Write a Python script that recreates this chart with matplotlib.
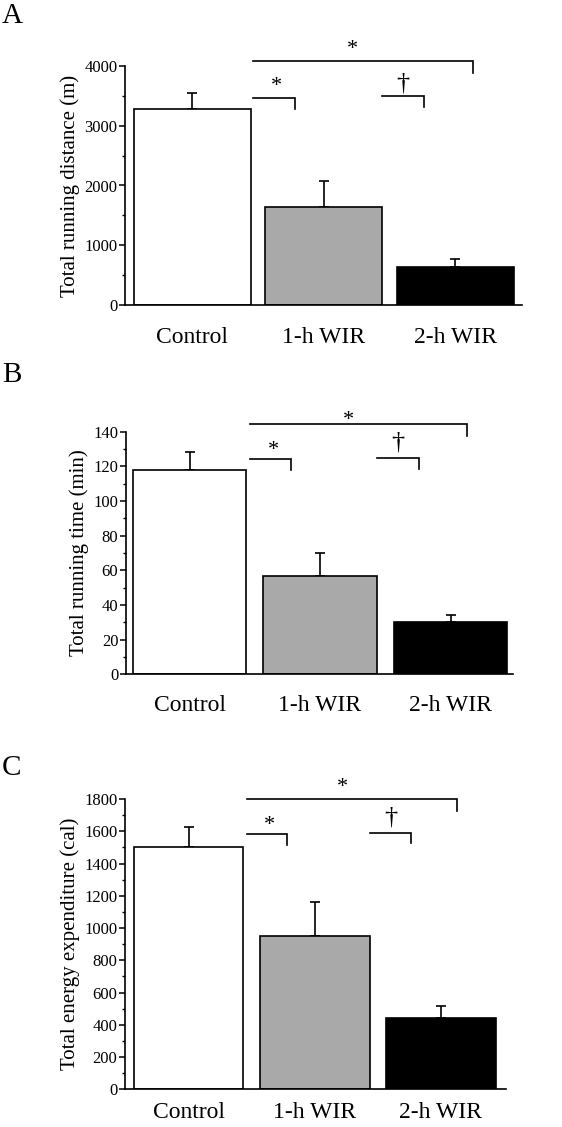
import matplotlib
matplotlib.use("Agg")
import matplotlib.pyplot as plt
from matplotlib.ticker import MultipleLocator

plt.rcParams['font.family'] = ['Liberation Serif', 'DejaVu Serif']

# data (mean, upper error bar)
categories = ["Control", "1-h WIR", "2-h WIR"]
distance_mean = [3275, 1645, 630]
distance_err = [265, 435, 135]
time_mean = [118, 56.5, 30]
time_err = [10.3, 13.3, 4.4]
energy_mean = [1500, 950, 440]
energy_err = [128, 209, 78]

bar_colors = ["white", "#a9a9a9", "black"]

W, H = 562, 1127

# panel layouts in pixel coords of the original (left, right, y of 0, y of top)
panels = [
    dict(letter="A", mean=distance_mean, err=distance_err,
         ylabel="Total running distance (m)", ymax=4000, major=1000,
         px=(125, 522, 305, 66), xlim=(-0.513, 2.506), width=0.89, letter_y=3, xpad=16,
         top=(4085, 3890, 4270), left=(3465, 3280, 3650), dag=(3505, 3320, 3715)),
    dict(letter="B", mean=time_mean, err=time_err,
         ylabel="Total running time (min)", ymax=140, major=20,
         px=(126, 513, 674.3, 431.7), xlim=(-0.487, 2.479), width=0.87, letter_y=362, xpad=15,
         top=(144.4, 137.5, 146.3), left=(124.1, 117.9, 129.4), dag=(124.6, 118.4, 133.6)),
    dict(letter="C", mean=energy_mean, err=energy_err,
         ylabel="Total energy expenditure (cal)", ymax=1800, major=200,
         px=(125, 506, 1089.3, 799), xlim=(-0.503, 2.515), width=0.87, letter_y=755, xpad=9,
         top=(1798, 1725, 1874), left=(1581, 1515, 1638), dag=(1591, 1526, 1684)),
]


def bracket(ax, x0, x1, y, ydrop, sym, xs, ys, size=16):
    ax.plot([x0, x1, x1], [y, y, ydrop], color="black", lw=1.2,
            clip_on=False, solid_joinstyle="miter")
    ax.text(xs, ys, sym, ha="center", va="center", fontsize=size, clip_on=False)


fig = plt.figure(figsize=(W / 100, H / 100), dpi=100)

for p in panels:
    l, r, y0, yt = p["px"]
    ax = fig.add_axes([l / W, 1 - y0 / H, (r - l) / W, (y0 - yt) / H])
    xs = range(len(categories))
    ax.bar(xs, p["mean"], width=p["width"], color=bar_colors,
           edgecolor="black", linewidth=1.2, zorder=2)
    ax.errorbar(xs, p["mean"], yerr=[[0] * 3, p["err"]], fmt="none",
                ecolor="black", elinewidth=1.2, capsize=3.5, capthick=1.2, zorder=1)
    ax.set_xlim(*p["xlim"])
    ax.set_ylim(0, p["ymax"])
    ax.yaxis.set_major_locator(MultipleLocator(p["major"]))
    ax.yaxis.set_minor_locator(MultipleLocator(p["major"] / 2))
    ax.spines["top"].set_visible(False)
    ax.spines["right"].set_visible(False)
    ax.spines["left"].set_linewidth(1.2)
    ax.spines["bottom"].set_linewidth(1.2)
    ax.tick_params(axis="y", which="major", direction="out", length=4, width=1.1,
                   labelsize=12, pad=1.5)
    ax.tick_params(axis="y", which="minor", direction="out", length=2.5, width=1.0)
    ax.set_xticks(list(xs))
    ax.set_xticklabels(categories)
    ax.tick_params(axis="x", length=0, labelsize=17, pad=p["xpad"])
    ax.set_ylabel(p["ylabel"], fontsize=15, labelpad=3)

    # significance brackets
    bracket(ax, 0.46, 2.13, p["top"][0], p["top"][1], "*", 1.22, p["top"][2])
    bracket(ax, 0.46, 0.78, p["left"][0], p["left"][1], "*", 0.64, p["left"][2])
    bracket(ax, 1.44, 1.76, p["dag"][0], p["dag"][1], "\u2020", 1.60, p["dag"][2], size=19)

    fig.text(2 / W, 1 - p["letter_y"] / H, p["letter"], fontsize=21,
             ha="left", va="top")

fig.savefig("out.png", dpi=100)
